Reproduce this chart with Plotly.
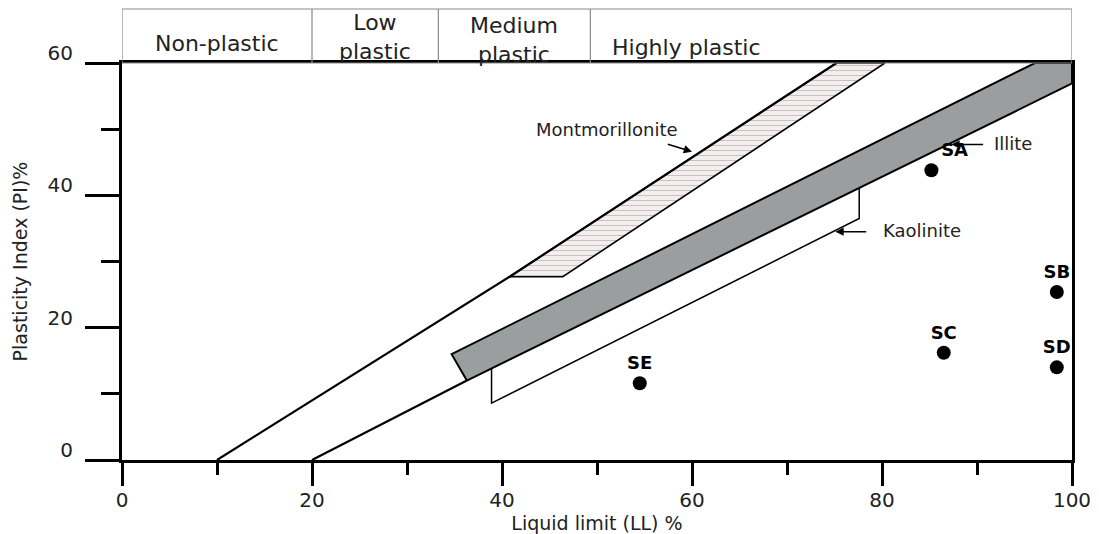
import plotly.graph_objects as go

# ---- data ----
samples = ["SA", "SB", "SC", "SD", "SE"]
sample_ll = [85.2, 98.4, 86.5, 98.4, 54.5]
sample_pi = [43.8, 25.4, 16.2, 14.0, 11.6]
sample_textpos = ["top right", "top center", "top center", "top center", "top center"]

zone_bounds = [0, 20, 33.3, 49.3, 100]
zone_labels = ["Non-plastic", "Low<br>plastic", "Medium<br>plastic", "Highly plastic"]

line1_ll = [10, 40.8, 75.2]
line1_pi = [0, 27.7, 60]
line2_ll = [20, 36.3]
line2_pi = [0, 12.0]

montmorillonite_ll = [40.8, 46.4, 80.3, 75.2, 40.8]
montmorillonite_pi = [27.7, 27.7, 60, 60, 27.7]

illite_ll = [36.3, 34.7, 96.1, 100, 100, 36.3]
illite_pi = [12.0, 16.0, 60, 60, 56.9, 12.0]

kaolinite_ll = [38.9, 38.9, 77.6, 77.6]
kaolinite_pi = [13.8, 8.6, 36.5, 41.1]

mineral_names = ["Montmorillonite", "Illite", "Kaolinite"]
mineral_label_ll = [51.0, 93.8, 84.2]
mineral_label_pi = [49.9, 47.9, 34.7]
arrow_tail_ll = [57.3, 90.8, 78.5]
arrow_tail_pi = [47.8, 47.7, 34.5]
arrow_head_ll = [60.0, 87.3, 75.1]
arrow_head_pi = [46.6, 47.7, 34.5]

x_ticks = [0, 20, 40, 60, 80, 100]
y_ticks = [0, 20, 40, 60]

FONT = "DejaVu Sans"
TXT = "#222"

fig = go.Figure()

# Montmorillonite band (textured)
fig.add_trace(go.Scatter(
    x=montmorillonite_ll, y=montmorillonite_pi, mode="lines", fill="toself",
    fillcolor="#f4eded",
    fillpattern=dict(shape="-", bgcolor="#f5eeee", fgcolor="#9a9494", size=5, solidity=0.2),
    line=dict(color="black", width=1.6), hoverinfo="skip"))

# Illite band
fig.add_trace(go.Scatter(
    x=illite_ll, y=illite_pi, mode="lines", fill="toself", fillcolor="#9b9e9e",
    line=dict(color="black", width=2), hoverinfo="skip"))

# Kaolinite outline
fig.add_trace(go.Scatter(
    x=kaolinite_ll, y=kaolinite_pi, mode="lines",
    line=dict(color="black", width=1.5), hoverinfo="skip"))

# Boundary lines
fig.add_trace(go.Scatter(x=line1_ll, y=line1_pi, mode="lines",
                         line=dict(color="black", width=2.2), hoverinfo="skip"))
fig.add_trace(go.Scatter(x=line2_ll, y=line2_pi, mode="lines",
                         line=dict(color="black", width=2.2), hoverinfo="skip"))

# Samples
fig.add_trace(go.Scatter(
    x=sample_ll, y=sample_pi, mode="markers+text", text=samples,
    textposition=sample_textpos,
    textfont=dict(family=FONT, size=18, color="black", weight="bold"),
    marker=dict(symbol="circle", size=14, color="black"),
    cliponaxis=False))

annotations = []
for name, lx, ly in zip(mineral_names, mineral_label_ll, mineral_label_pi):
    annotations.append(dict(x=lx, y=ly, xref="x", yref="y", text=name, showarrow=False,
                            font=dict(family=FONT, size=18, color=TXT)))
for tx, ty, hx, hy in zip(arrow_tail_ll, arrow_tail_pi, arrow_head_ll, arrow_head_pi):
    annotations.append(dict(x=hx, y=hy, ax=tx, ay=ty, xref="x", yref="y", axref="x", ayref="y",
                            text="", showarrow=True, arrowhead=2, arrowsize=1.1,
                            arrowwidth=1.5, arrowcolor="black", standoff=0))

# Header zones
HEADER_TOP = 1.136
shapes = [dict(type="rect", xref="x", yref="paper", x0=zone_bounds[0], x1=zone_bounds[-1],
               y0=1, y1=HEADER_TOP, line=dict(color="#8a8a8a", width=1.2))]
for b in zone_bounds[1:-1]:
    shapes.append(dict(type="line", xref="x", yref="paper", x0=b, x1=b, y0=1, y1=HEADER_TOP,
                       line=dict(color="#8a8a8a", width=1.2)))

header_y = [1.050, 1.066, 1.058, 1.038]
for i, lab in enumerate(zone_labels):
    common = dict(y=header_y[i], xref="x", yref="paper", text=lab, showarrow=False,
                  yanchor="middle", font=dict(family=FONT, size=22, color=TXT))
    if i == len(zone_labels) - 1:
        annotations.append(dict(x=zone_bounds[i], xanchor="left", xshift=20, **common))
    else:
        annotations.append(dict(x=(zone_bounds[i] + zone_bounds[i + 1]) / 2,
                                xanchor="center", **common))

# page body adds an 8px offset; the figure is sized so the plot area lands where intended
fig.update_layout(
    width=1091, height=526,
    margin=dict(l=114, r=27, t=55, b=74),
    plot_bgcolor="white", paper_bgcolor="white",
    showlegend=False,
    annotations=annotations, shapes=shapes,
    xaxis=dict(range=[0, 100], tickvals=x_ticks, ticks="outside", ticklen=23, tickwidth=2.5,
               tickcolor="black", showline=True, linewidth=3, linecolor="black", mirror=True,
               showgrid=False, zeroline=False, ticklabelstandoff=-3, automargin=False,
               tickfont=dict(family=FONT, size=20, color=TXT),
               minor=dict(dtick=10, tick0=0, ticks="outside", ticklen=12, tickwidth=2.5,
                          tickcolor="black", showgrid=False),
               title=dict(text="Liquid limit (LL) %", standoff=12,
                          font=dict(family=FONT, size=19, color=TXT))),
    yaxis=dict(range=[0, 60], tickvals=y_ticks, ticks="outside", ticklen=34, tickwidth=2.5,
               tickcolor="black", showline=True, linewidth=3, linecolor="black", mirror=True,
               showgrid=False, zeroline=False, ticklabelstandoff=8, ticklabelshift=-10,
               automargin=False,
               tickfont=dict(family=FONT, size=20, color=TXT),
               minor=dict(dtick=10, tick0=0, ticks="outside", ticklen=18, tickwidth=2.5,
                          tickcolor="black", showgrid=False),
               title=dict(text="Plasticity Index (PI)%", standoff=15,
                          font=dict(family=FONT, size=19, color=TXT))),
)

fig.write_html("out.html")
